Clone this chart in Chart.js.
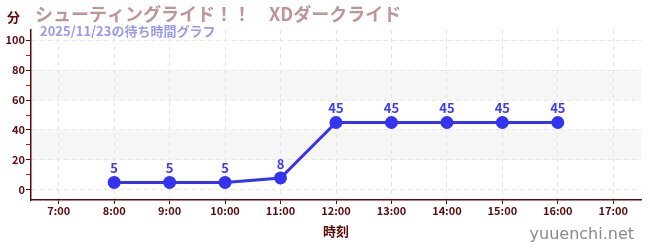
<!DOCTYPE html>
<html>
<head>
<meta charset="utf-8">
<script src="https://cdn.jsdelivr.net/npm/chart.js@4"></script>
<style>
  html, body { margin: 0; padding: 0; background: #fff; }
  #wrap { width: 650px; height: 250px; }
</style>
</head>
<body>
<div id="wrap"><canvas id="chart" width="650" height="250"></canvas></div>
<script>
const hours = ["7:00", "8:00", "9:00", "10:00", "11:00", "12:00", "13:00", "14:00", "15:00", "16:00", "17:00"];
const waits = [null, 5, 5, 5, 8, 45, 45, 45, 45, 45, null];
const bands = [[20, 40], [60, 80]];

const FONT = "'Noto Sans CJK JP', 'Noto Sans', sans-serif";
const AXIS = "#5a0a0a";
const GRID = "#e4e4e4";

const decorations = {
  id: "decorations",
  beforeDraw(chart) {
    const { ctx, chartArea } = chart;
    const y = chart.scales.y;
    ctx.save();
    ctx.fillStyle = "#f6f6f6";
    for (const [lo, hi] of bands) {
      const top = y.getPixelForValue(hi);
      const bottom = y.getPixelForValue(lo);
      ctx.fillRect(chartArea.left, top, chartArea.right - chartArea.left, bottom - top);
    }
    ctx.restore();
  },
  afterDraw(chart) {
    const { ctx } = chart;
    ctx.save();
    ctx.textBaseline = "middle";
    ctx.textAlign = "left";

    ctx.fillStyle = AXIS;
    ctx.font = "bold 13px " + FONT;
    ctx.fillText("分", 7, 17);

    ctx.fillStyle = "#c09494";
    ctx.font = "bold 18px " + FONT;
    ctx.fillText("シューティングライド！！　XDダークライド", 35, 14);

    ctx.fillStyle = "#9a9af0";
    ctx.font = "bold 13px " + FONT;
    ctx.fillText("2025/11/23の待ち時間グラフ", 40, 31);

    ctx.fillStyle = "#8a8a8a";
    ctx.font = "16px 'DejaVu Sans', sans-serif";
    ctx.textAlign = "right";
    ctx.fillText("yuuenchi.net", 634, 235);

    // value labels
    const meta = chart.getDatasetMeta(0);
    ctx.fillStyle = "#3c3cf0";
    ctx.font = "bold 13px " + FONT;
    ctx.textAlign = "center";
    meta.data.forEach((pt, i) => {
      if (waits[i] === null) return;
      ctx.fillText(String(waits[i]), pt.x, pt.y - 14);
    });
    ctx.restore();
  }
};

new Chart(document.getElementById("chart"), {
  type: "line",
  data: {
    labels: hours,
    datasets: [{
      data: waits,
      borderColor: "#3434f0",
      backgroundColor: "#3434f0",
      borderWidth: 3,
      pointRadius: 5,
      pointHoverRadius: 5,
      tension: 0,
      spanGaps: false
    }]
  },
  options: {
    responsive: false,
    animation: false,
    layout: { padding: { top: 30, right: 9, left: 0, bottom: 0 } },
    plugins: {
      legend: { display: false },
      tooltip: { enabled: false }
    },
    scales: {
      x: {
        offset: true,
        afterFit(scale) { scale.height = 50; },
        border: { color: AXIS, width: 1.5, dash: [4, 4] },
        grid: {
          color: GRID,
          tickColor: AXIS,
          tickLength: 4,
          offset: false,
          tickBorderDash: []
        },
        ticks: {
          color: AXIS,
          padding: 0,
          font: { family: FONT, size: 11, weight: "bold" }
        },
        title: {
          display: true,
          text: "時刻",
          color: AXIS,
          font: { family: FONT, size: 13, weight: "bold" },
          padding: { top: 0, bottom: 11 }
        }
      },
      y: {
        min: -6.7,
        max: 106.7,
        afterFit(scale) { scale.width = 31; },
        afterBuildTicks(scale) {
          const t = [];
          for (let v = 0; v <= 100; v += 10) t.push({ value: v });
          scale.ticks = t;
        },
        border: { color: AXIS, width: 1.5, dash: [4, 4] },
        grid: {
          color: (c) => (c.tick && c.tick.value % 20 === 0) ? GRID : "rgba(0,0,0,0)",
          tickBorderDash: [],
          tickColor: (c) => (c.tick && c.tick.value % 20 === 0) ? AXIS : "#e01010",
          tickLength: 5
        },
        ticks: {
          color: AXIS,
          padding: 1,
          font: { family: FONT, size: 11, weight: "bold" },
          callback: (v) => (v % 20 === 0 ? String(v) : "")
        }
      }
    }
  },
  plugins: [decorations]
});
</script>
</body>
</html>
